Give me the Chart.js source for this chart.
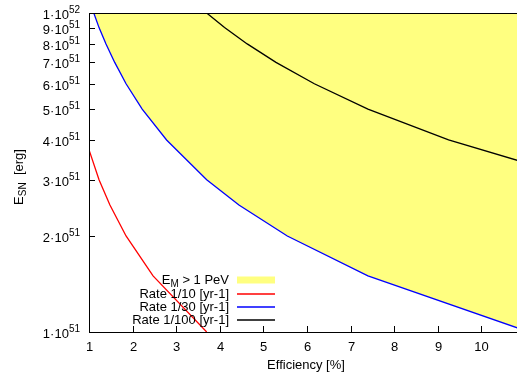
<!DOCTYPE html>
<html lang="en">
<head>
<meta charset="UTF-8">
<title>Supernova energy vs efficiency</title>
<script src="https://cdn.jsdelivr.net/npm/chart.js@4.4.0/dist/chart.umd.min.js"></script>
<style>
    body { margin: 0; background: #fff; }
    #wrap { width: 517px; height: 378px; }
</style>
</head>
<body>
<div id="wrap"><canvas id="chart" width="517" height="378"></canvas></div>
<script>
// energy samples (units of 1e51 erg) and the efficiency [%]
const rate10E   = [4, 3, 2.5, 2, 1.5, 1];
const rate10Eff = [0.925, 1.23, 1.48, 1.85, 2.47, 3.7];

const rate30E   = [10, 9, 8, 7, 6, 5, 4, 3, 2.5, 2, 1.5, 1];
const rate30Eff = [1.11, 1.23, 1.39, 1.59, 1.85, 2.22, 2.78, 3.7, 4.44, 5.55, 7.4, 11.1];

const rate100E   = [10, 9, 8, 7, 6, 5, 4, 3];
const rate100Eff = [3.7, 4.11, 4.63, 5.29, 6.17, 7.4, 9.25, 12.33];

const xTicks = [1, 2, 3, 4, 5, 6, 7, 8, 9, 10];
const yTicks = [1, 2, 3, 4, 5, 6, 7, 8, 9, 10];   // x 1e51

const legendItems = [
    { label: 'Rate 1/10 [yr-1]', color: '#ff0000' },
    { label: 'Rate 1/30 [yr-1]', color: '#0000ff' },
    { label: 'Rate 1/100 [yr-1]', color: '#000000' }
];

function toPoints(eff, e) {
    return eff.map((x, i) => ({ x: x, y: e[i] * 1e51 }));
}

const FONT = '"Liberation Sans", Arial, sans-serif';
const BIG = '13px ' + FONT;
const SMALL = '10px ' + FONT;

// axes, labels and legend drawn by hand (gnuplot look)
const decor = {
    id: 'decor',
    afterDatasetsDraw(chart) {
        const ctx = chart.ctx;
        const a = chart.chartArea;
        const xs = chart.scales.x, ys = chart.scales.y;
        ctx.save();
        ctx.strokeStyle = '#000';
        ctx.lineWidth = 1;
        ctx.beginPath();
        ctx.moveTo(a.right, a.top + 0.5);
        ctx.lineTo(a.left + 0.5, a.top + 0.5);
        ctx.lineTo(a.left + 0.5, a.bottom + 0.5);
        ctx.lineTo(a.right, a.bottom + 0.5);
        ctx.stroke();

        // x ticks
        ctx.fillStyle = '#000';
        ctx.font = BIG;
        ctx.textAlign = 'center';
        ctx.textBaseline = 'middle';
        xTicks.forEach(v => {
            const px = Math.round(xs.getPixelForValue(v)) + 0.5;
            ctx.beginPath();
            ctx.moveTo(px, a.bottom);
            ctx.lineTo(px, a.bottom - 6);
            ctx.stroke();
            ctx.fillText(String(v), px, a.bottom + 15);
        });

        // y ticks with 1·10^n labels
        yTicks.forEach(v => {
            const py = Math.round(ys.getPixelForValue(v * 1e51)) + 0.5;
            ctx.beginPath();
            ctx.moveTo(a.left, py);
            ctx.lineTo(a.left + 6, py);
            ctx.stroke();
            const mant = v === 10 ? '1' : String(v);
            const exp = v === 10 ? '52' : '51';
            ctx.font = SMALL;
            ctx.textAlign = 'right';
            ctx.textBaseline = 'alphabetic';
            const expW = ctx.measureText(exp).width;
            ctx.fillText(exp, 80, py - 1);
            ctx.font = BIG;
            ctx.textBaseline = 'middle';
            ctx.fillText(mant + '\u00b710', 80 - expW, py + 2);
        });

        // axis titles
        ctx.textAlign = 'center';
        ctx.textBaseline = 'middle';
        ctx.font = BIG;
        ctx.fillText('Efficiency [%]', 306, 365);

        ctx.save();
        ctx.translate(19, 177);
        ctx.rotate(-Math.PI / 2);
        ctx.textAlign = 'left';
        const w1 = ctx.measureText('E').width;
        ctx.font = SMALL;
        const w2 = ctx.measureText('SN').width;
        ctx.font = BIG;
        const w3 = ctx.measureText('  [erg]').width;
        let sx = -(w1 + w2 + w3) / 2;
        ctx.fillText('E', sx, 0);
        ctx.font = SMALL;
        ctx.fillText('SN', sx + w1, 4);
        ctx.font = BIG;
        ctx.fillText('  [erg]', sx + w1 + w2, 0);
        ctx.restore();

        // legend
        const textRight = 229, sx0 = 237, sx1 = 275;
        ctx.textBaseline = 'middle';
        ctx.textAlign = 'right';
        let y = 280;
        ctx.font = BIG;
        const tail = ' > 1 PeV';
        const tw = ctx.measureText(tail).width;
        ctx.fillText(tail, textRight, y);
        ctx.font = SMALL;
        const mw = ctx.measureText('M').width;
        ctx.fillText('M', textRight - tw, y + 4);
        ctx.font = BIG;
        ctx.fillText('E', textRight - tw - mw, y);
        ctx.fillStyle = '#ffff80';
        ctx.fillRect(sx0, y - 3.5, sx1 - sx0, 7);
        legendItems.forEach((it, i) => {
            const yy = 294 + i * 13;
            ctx.fillStyle = '#000';
            ctx.fillText(it.label, textRight, yy);
            ctx.strokeStyle = it.color;
            ctx.lineWidth = 1.3;
            ctx.beginPath();
            ctx.moveTo(sx0, yy);
            ctx.lineTo(sx1, yy);
            ctx.stroke();
        });
        ctx.restore();
    }
};

new Chart(document.getElementById('chart'), {
    type: 'scatter',
    data: {
        datasets: [
            {
                label: 'Rate 1/10 [yr-1]',
                data: toPoints(rate10Eff, rate10E),
                showLine: true, borderColor: '#ff0000', borderWidth: 1.3,
                pointRadius: 0, fill: false, order: 0
            },
            {
                label: 'Rate 1/30 [yr-1]',
                data: toPoints(rate30Eff, rate30E),
                showLine: true, borderColor: '#0000ff', borderWidth: 1.3,
                pointRadius: 0, fill: false, order: 0
            },
            {
                label: 'Rate 1/100 [yr-1]',
                data: toPoints(rate100Eff, rate100E),
                showLine: true, borderColor: '#000000', borderWidth: 1.3,
                pointRadius: 0, fill: false, order: 0
            },
            {
                label: 'E_M > 1 PeV',
                data: toPoints(rate30Eff, rate30E),
                showLine: true, borderWidth: 0, borderColor: 'rgba(0,0,0,0)',
                backgroundColor: '#ffff80',
                pointRadius: 0, fill: 'end', order: 10
            }
        ]
    },
    options: {
        responsive: false,
        animation: false,
        events: [],
        layout: { padding: { left: 89, top: 13, right: 0, bottom: 46 } },
        plugins: {
            legend: { display: false },
            tooltip: { enabled: false }
        },
        scales: {
            x: { type: 'linear', min: 1, max: 10.82, display: false },
            y: { type: 'logarithmic', min: 1e51, max: 1e52, display: false }
        }
    },
    plugins: [decor]
});
</script>
</body>
</html>
